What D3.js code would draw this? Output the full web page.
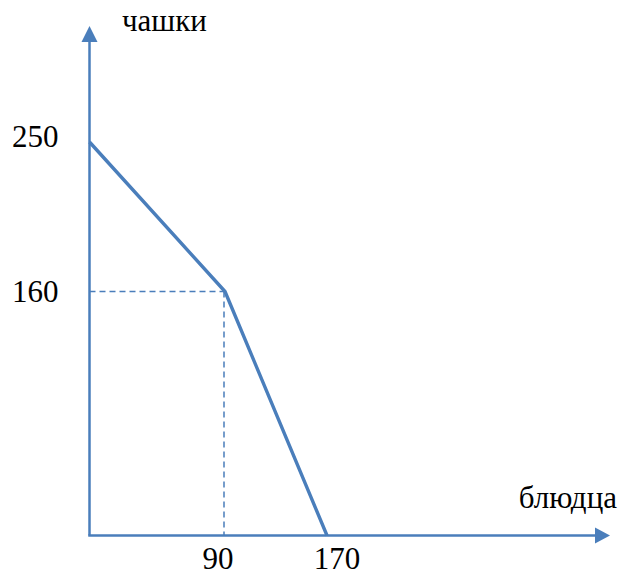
<!DOCTYPE html>
<html>
<head>
<meta charset="utf-8">
<script src="https://cdn.jsdelivr.net/npm/d3@7"></script>
<style>
html,body{margin:0;padding:0;background:#fff;}
svg{display:block;}
text{font-family:"Liberation Serif","Times New Roman",serif;fill:#000;}
</style>
</head>
<body>
<script>
// Data
const saucers = [0, 90, 170];      // блюдца (x)
const cups = [250, 160, 0];        // чашки (y)
const xTickValues = [90, 170];
const yTickValues = [250, 160];
const xAxisTitle = "блюдца";
const yAxisTitle = "чашки";

const W = 619, H = 578;
const color = "#4a7ebb";

const svg = d3.select("body").append("svg").attr("width", W).attr("height", H);

// schematic (piecewise) scales, as drawn in the reference
const x = d3.scaleLinear().domain([0, 90, 170]).range([89.5, 225, 327]);
const y = d3.scaleLinear().domain([0, 160, 250]).range([535.5, 291.5, 142]);

const x0 = x(0), y0 = y(0);
const xEnd = 610, yEnd = 26;

// axes
svg.append("line").attr("x1", x0).attr("y1", y0).attr("x2", x0).attr("y2", yEnd + 14)
  .attr("stroke", color).attr("stroke-width", 2.5);
svg.append("line").attr("x1", x0 - 1.25).attr("y1", y0).attr("x2", xEnd - 12).attr("y2", y0)
  .attr("stroke", color).attr("stroke-width", 2.5);
// arrow heads
svg.append("path").attr("d", `M${x0},${yEnd} L${x0 - 8},${yEnd + 16} L${x0 + 8},${yEnd + 16} Z`).attr("fill", color);
svg.append("path").attr("d", `M${xEnd},${y0} L${xEnd - 15},${y0 - 8} L${xEnd - 15},${y0 + 8} Z`).attr("fill", color);

// dashed guide lines at the kink
const kx = x(saucers[1]), ky = y(cups[1]);
svg.append("path")
  .attr("d", `M${x0},${ky} H${kx} M${kx - 1},${ky} V${y0}`)
  .attr("fill", "none").attr("stroke", color).attr("stroke-width", 1.5)
  .attr("stroke-dasharray", "6,4");

// data line
const pts = saucers.map((s, i) => [s, cups[i]]);
svg.append("path")
  .attr("d", d3.line().x(d => x(d[0])).y(d => y(d[1]))(pts))
  .attr("fill", "none").attr("stroke", color).attr("stroke-width", 3.4)
  .attr("stroke-linejoin", "miter");

// tick labels
const fs = 31;
svg.append("g").selectAll("text").data(yTickValues).join("text")
  .attr("x", 12).attr("y", d => y(d) + (d === 250 ? 5 : 10))
  .attr("font-size", fs).text(d => d);

const xOffsets = {90: -7, 170: 10};
svg.append("g").selectAll("text").data(xTickValues).join("text")
  .attr("x", d => x(d) + xOffsets[d]).attr("y", 569)
  .attr("text-anchor", "middle").attr("font-size", fs).text(d => d);

// axis titles
svg.append("text").attr("x", 122).attr("y", 31).attr("font-size", fs).text(yAxisTitle);
svg.append("text").attr("x", 617).attr("y", 508).attr("text-anchor", "end").attr("font-size", fs).text(xAxisTitle);
</script>
</body>
</html>
